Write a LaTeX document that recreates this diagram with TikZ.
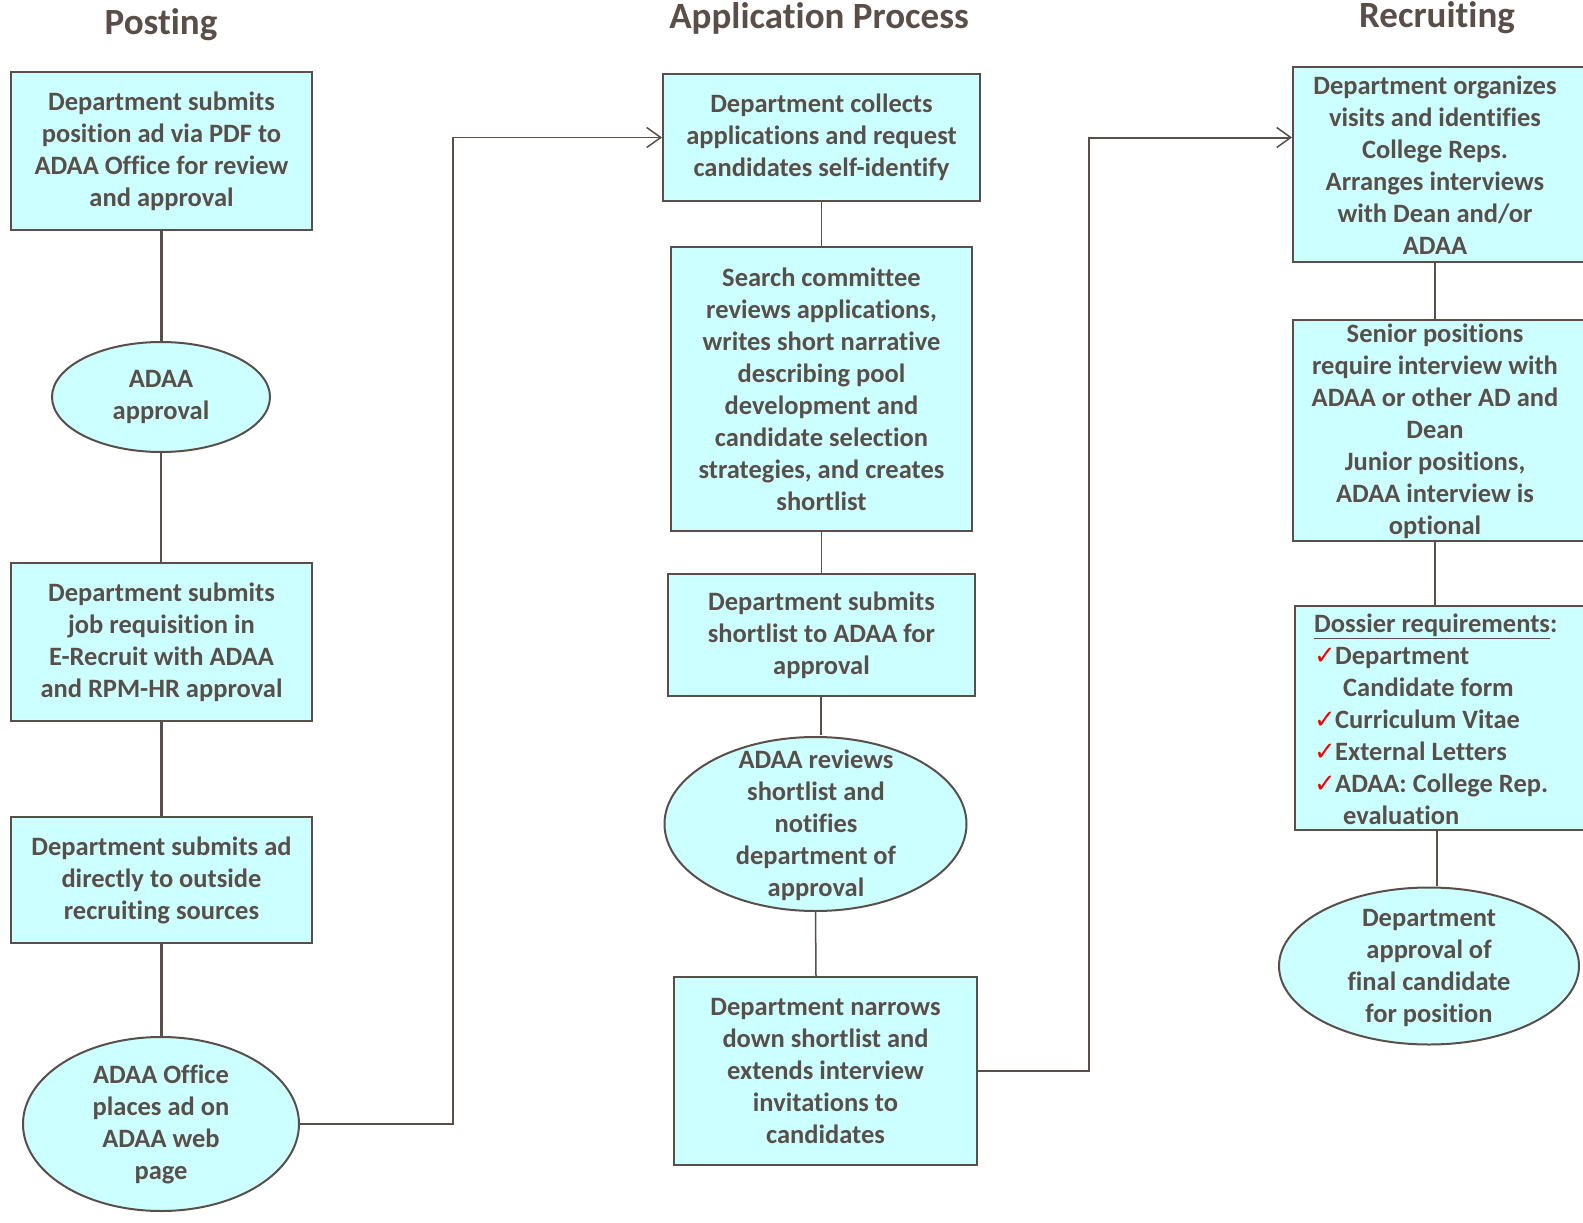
\documentclass[tikz,border=0pt]{standalone}
\usepackage{fontspec}
\setmainfont{Carlito}[Ligatures=NoCommon]
\newfontfamily\symfont{DejaVu Sans}
\usetikzlibrary{arrows.meta,shapes.geometric}
\definecolor{ink}{RGB}{89,79,72}
\definecolor{boxfill}{RGB}{204,255,255}
\newcommand{\chk}{\makebox[21pt][l]{\textcolor{red}{\symfont\fontsize{26}{32}\selectfont ✓}}}
\begin{document}
\begin{tikzpicture}[x=1pt,y=-1pt,
  every node/.style={font=\fontsize{26.5}{32}\selectfont\bfseries, text=ink},
  box/.style={draw=ink, line width=2pt, fill=boxfill, rectangle, inner sep=0pt, align=center},
  ell/.style={draw=ink, line width=2pt, fill=boxfill, ellipse, inner sep=0pt},
  txt/.style={align=center, inner sep=0pt},
  title/.style={font=\fontsize{37}{42}\selectfont\bfseries, text=ink, inner sep=0pt},
  linkA/.style={draw=ink, line width=2.4pt},
  linkB/.style={draw=ink, line width=1.5pt},
  linkC/.style={draw=ink, line width=2pt},
  arr/.style={-{Straight Barb[length=14pt,width=20pt,line width=1.5pt]}},
]
\useasboundingbox (0,0) rectangle (1583,1223);

% titles
\node[title] (t1) at (161,25) {Posting};
\node[title] (t2) at (819,18) {Application Process};
\node[title] (t3) at (1437,18) {Recruiting};

% Posting column
\node[box, minimum width=301pt, minimum height=158pt] (b1) at (161.5,151)
  {Department submits\\position ad via PDF to\\ADAA Office for review\\and approval};
\node[ell, minimum width=218pt, minimum height=110pt] (e1) at (161,397) {};
\node[txt] (e1t) at (e1) {ADAA\\approval};
\node[box, minimum width=301pt, minimum height=158pt] (b2) at (161.5,642)
  {Department submits\\job requisition in\\E-Recruit with ADAA\\and RPM-HR approval};
\node[box, minimum width=301pt, minimum height=126pt] (b3) at (161.5,880)
  {Department submits ad\\directly to outside\\recruiting sources};
\node[ell, minimum width=276pt, minimum height=174pt] (e2) at (161,1124) {};
\node[txt] (e2t) at (e2) {ADAA Office\\places ad on\\ADAA web\\page};

% Application column
\node[box, minimum width=317pt, minimum height=127pt] (b4) at (821.5,137.5)
  {Department collects\\applications and request\\candidates self-identify};
\node[box, minimum width=301pt, minimum height=284pt] (b5) at (821.5,389)
  {Search committee\\reviews applications,\\writes short narrative\\describing pool\\development and\\candidate selection\\strategies, and creates\\shortlist};
\node[box, minimum width=307pt, minimum height=122pt] (b6) at (821.5,635)
  {Department submits\\shortlist to ADAA for\\approval};
\node[ell, minimum width=302pt, minimum height=174pt] (e3) at (815.5,824) {};
\node[txt] (e3t) at (816,825) {ADAA reviews\\shortlist and\\notifies\\department of\\approval};
\node[box, minimum width=303pt, minimum height=188pt] (b7) at (825.5,1071)
  {Department narrows\\down shortlist and\\extends interview\\invitations to\\candidates};

% Recruiting column
\node[box, minimum width=296pt, minimum height=195pt] (b8) at (1441,164.5) {};
\node[txt] (b8t) at (1435,165) {Department organizes\\visits and identifies\\College Reps.\\Arranges interviews\\with Dean and/or\\ADAA};
\node[box, minimum width=296pt, minimum height=221pt] (b9) at (1441,430.5) {};
\node[txt] (b9t) at (1435,431.5) {Senior positions\\require interview with\\ADAA or other AD and\\Dean\\Junior positions,\\ADAA interview is\\optional};
\node[box, minimum width=295pt, minimum height=224pt] (b10) at (1442.5,718) {};
\node[txt, align=left, anchor=west] (b10t) at (1314,719.5)
  {\underline{Dossier requirements}:\\
   \chk Department\\
   \hspace*{29pt}Candidate form\\
   \chk Curriculum Vitae\\
   \chk External Letters\\
   \chk ADAA: College Rep.\\
   \hspace*{29pt}evaluation};
\node[ell, minimum width=300pt, minimum height=157pt] (e4) at (1429,966) {};
\node[txt] (e4t) at (1429,967.5) {Department\\approval of\\final candidate\\for position};

% helper coordinates
\coordinate (k1) at (453,0);
\coordinate (k2) at (1089,0);
\coordinate (k3) at (1435,0);
\coordinate (k4) at (1437,0);
\coordinate (k5) at (821,0);
\coordinate (k6) at (816,0);

% connectors
\draw[linkA] (b1.south) -- (b1.south |- e1.north);
\draw[linkA] (e1.south) -- (e1.south |- b2.north);
\draw[linkA] (b2.south) -- (b2.south |- b3.north);
\draw[linkA] (b3.south) -- (b3.south |- e2.north);
\draw[linkB, arr] (e2.east) -| (k1 |- b4.west) -- (b4.west);

\draw[linkB] (b4.south) -- (b5.north);
\draw[linkB] (b5.south) -- (b6.north);
\draw[linkB] (k5 |- b6.south) -- ([yshift=1pt]k5 |- e3.north);
\draw[linkB] (e3.south) -- (k6 |- b7.north);
\draw[linkC, arr] (b7.east) -| (k2 |- b4.west) -- (b8.west |- b4.west);

\draw[linkC] (k3 |- b8.south) -- (k3 |- b9.north);
\draw[linkC] (k3 |- b9.south) -- (k3 |- b10.north);
\draw[linkC] (k4 |- b10.south) -- ([yshift=1pt]k4 |- e4.north);
\end{tikzpicture}
\end{document}
